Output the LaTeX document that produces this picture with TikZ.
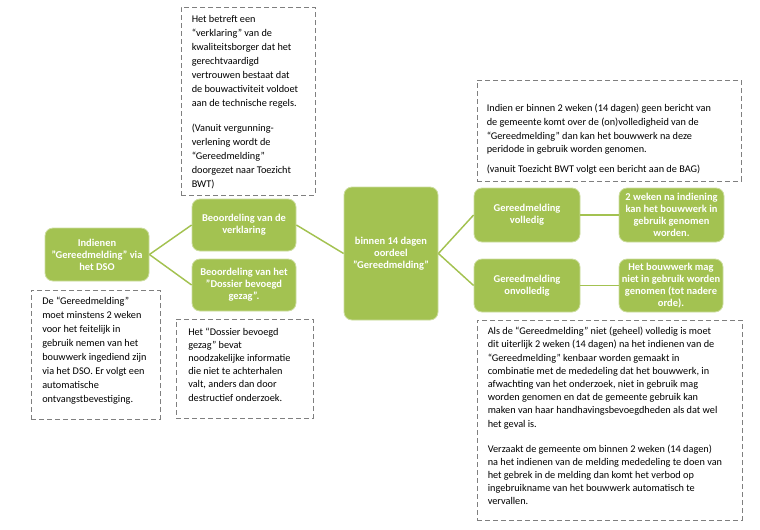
\documentclass[tikz,border=0pt]{standalone}
\usepackage{fontspec}
\setmainfont{Carlito}
\definecolor{gfill}{RGB}{163,194,81}
\definecolor{dgrey}{RGB}{127,127,127}
\begin{document}
\begin{tikzpicture}[x=0.75pt,y=-0.75pt,
 gbox/.style={draw=gfill!55!white, line width=0.6pt, fill=gfill, rounded corners=6pt, text=white, font=\fontsize{7.85}{9}\selectfont\bfseries, align=center, inner sep=0pt},
 dbox/.style={draw=dgrey, line width=0.75pt, dash pattern=on 3.75pt off 2.25pt, inner sep=0pt},
 btext/.style={anchor=north west, inner sep=0pt, align=left, font=\fontsize{7.7}{10.5}\selectfont},
 conn/.style={draw=gfill, line width=1.1pt}]
\useasboundingbox (0,0) rectangle (760,529);
% green boxes
\node[gbox, minimum width=78pt, minimum height=39.75pt] (ind) at (97,254.5) {Indienen\\"Gereedmelding" via\\het DSO};
\node[gbox, minimum width=78pt, minimum height=39pt] (verk) at (244,225) {Beoordeling van de\\verklaring};
\node[gbox, minimum width=78pt, minimum height=39pt] (doss) at (244,285) {Beoordeling van het\\"Dossier bevoegd\\gezag".};
\node[gbox, minimum width=70.5pt, minimum height=99.75pt] (cent) at (391,253.5) {binnen 14 dagen\\oordeel\\"Gereedmelding"};
\node[gbox, minimum width=79.5pt, minimum height=40.5pt] (voll) at (527,215) {Gereedmelding\\volledig};
\node[gbox, minimum width=79.5pt, minimum height=39.75pt] (onvo) at (527,285.5) {Gereedmelding\\onvolledig};
\node[gbox, minimum width=78.75pt, minimum height=40.5pt] (twee) at (671.5,215) {2 weken na indiening\\kan het bouwwerk in\\gebruik genomen\\worden.};
\node[gbox, minimum width=78pt, minimum height=39.75pt] (mag) at (671,285.5) {Het bouwwerk mag\\niet in gebruik worden\\genomen (tot nadere\\orde).};
% connectors
\draw[conn] (ind.east) -- (verk.west);
\draw[conn] (ind.east) -- (doss.west);
\draw[conn] (verk.east) -- (cent.west);
\draw[conn] (cent.east) -- (voll.west);
\draw[conn] (cent.east) -- (onvo.west);
\draw[conn] (voll.east) -- (twee.west);
\draw[conn] (onvo.east) -- (mag.west);
% dashed boxes
\node[dbox, minimum width=96.75pt, minimum height=96.75pt] (d1) at (95.5,354.5) {};
\node[dbox, minimum width=100.5pt, minimum height=141pt] (d2) at (248,101) {};
\node[dbox, minimum width=102.75pt, minimum height=74.25pt] (d3) at (244.5,368.5) {};
\node[dbox, minimum width=198pt, minimum height=75.75pt] (d4) at (609,130.5) {};
\node[dbox, minimum width=198.75pt, minimum height=150pt] (d5) at (609.5,420) {};
% texts
\node[btext] (t1) at (42,297) {De “Gereedmelding”\\moet minstens 2 weken\\voor het feitelijk in\\gebruik nemen van het\\bouwwerk ingediend zijn\\via het DSO. Er volgt een\\automatische\\ontvangstbevestiging.};
\node[btext] (t2) at (191.5,15) {Het betreft een\\“verklaring” van de\\kwaliteitsborger dat het\\gerechtvaardigd\\vertrouwen bestaat dat\\de bouwactiviteit voldoet\\aan de technische regels.\\[8.25pt](Vanuit vergunning-\\verlening wordt de\\“Gereedmelding”\\doorgezet naar Toezicht\\BWT)};
\node[btext, font=\fontsize{7.7}{9.8}\selectfont] (t3) at (188,328) {Het “Dossier bevoegd\\gezag” bevat\\noodzakelijke informatie\\die niet te achterhalen\\valt, anders dan door\\destructief onderzoek.};
\node[btext, font=\fontsize{7.7}{10.3}\selectfont] (t4) at (486.5,104) {Indien er binnen 2 weken (14 dagen) geen bericht van\\de gemeente komt over de (on)volledigheid van de\\“Gereedmelding” dan kan het bouwwerk na deze\\peridode in gebruik worden genomen.\\[4.7pt](vanuit Toezicht BWT volgt een bericht aan de BAG)};
\node[btext, font=\fontsize{7.7}{9.9}\selectfont] (t5) at (487.5,327) {Als de “Gereedmelding” niet (geheel) volledig is moet\\dit uiterlijk 2 weken (14 dagen) na het indienen van de\\“Gereedmelding” kenbaar worden gemaakt in\\combinatie met de mededeling dat het bouwwerk, in\\afwachting van het onderzoek, niet in gebruik mag\\worden genomen en dat de gemeente gebruik kan\\maken van haar handhavingsbevoegdheden als dat wel\\het geval is.\\[8.8pt]Verzaakt de gemeente om binnen 2 weken (14 dagen)\\na het indienen van de melding mededeling te doen van\\het gebrek in de melding dan komt het verbod op\\ingebruikname van het bouwwerk automatisch te\\vervallen.};
\end{tikzpicture}
\end{document}
